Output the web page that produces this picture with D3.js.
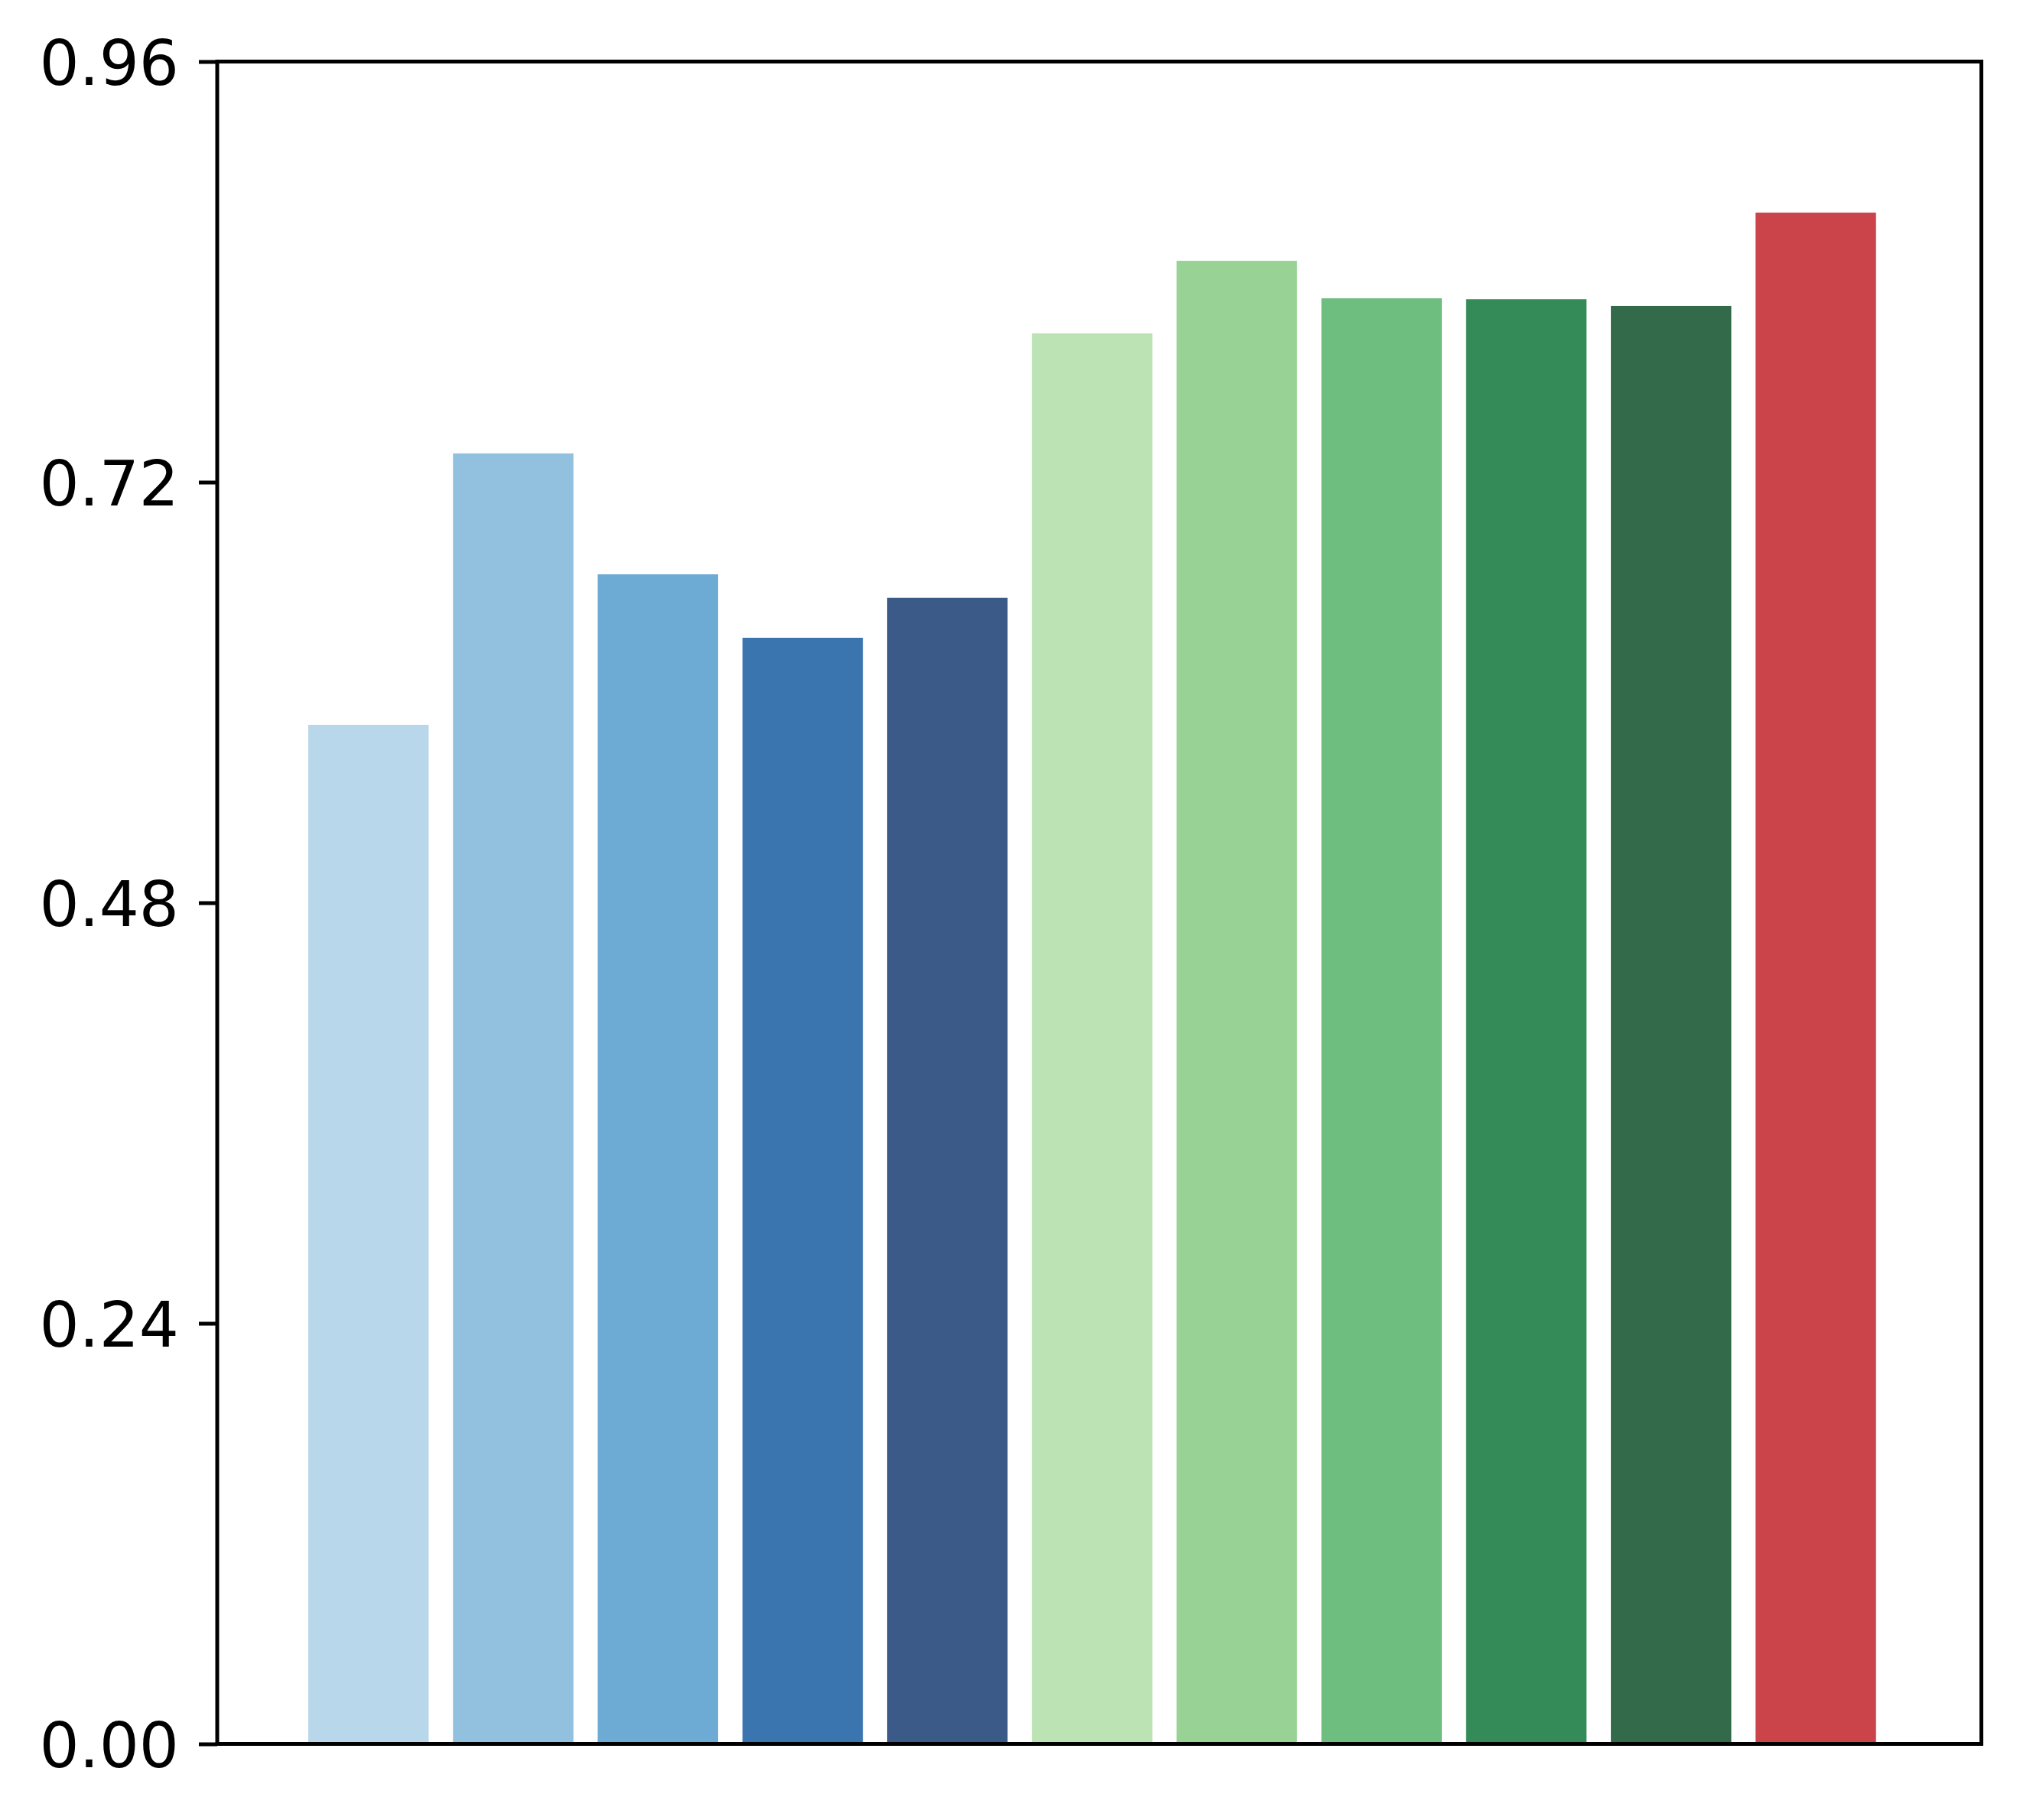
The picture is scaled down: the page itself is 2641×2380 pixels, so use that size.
<!DOCTYPE html>
<html>
<head>
<meta charset="utf-8">
<script src="https://cdn.jsdelivr.net/npm/d3@7"></script>
<style>
  html, body { margin: 0; padding: 0; background: #fff; }
  svg { display: block; }
</style>
</head>
<body>
<svg id="chart" width="2641" height="2380"></svg>
<script>
const categories = ["b1", "b2", "b3", "b4", "b5", "g1", "g2", "g3", "g4", "g5", "r1"];
const values = [0.5815, 0.7364, 0.6674, 0.6312, 0.6540, 0.8049, 0.8463, 0.8249, 0.8244, 0.8206, 0.8738];
const colors = ["#b9d7ea", "#92c1df", "#6daad4", "#3b75af", "#3b5a88",
                "#bbe3b4", "#98d395", "#6dbe7f", "#358b58", "#336a4a", "#cb444a"];
const yTicks = [0, 0.24, 0.48, 0.72, 0.96];
const yTickLabels = ["0.00", "0.24", "0.48", "0.72", "0.96"];

const W = 2641, H = 2380;
const margin = { left: 284, right: W - 2590.5, top: 80.5, bottom: H - 2280.5 };
const svg = d3.select("#chart");

const x = d3.scaleLinear()
  .domain([-1.045, categories.length - 1 + 1.144])
  .range([margin.left, W - margin.right]);
const barWidth = 0.832;
const y = d3.scaleLinear()
  .domain([0, 0.96])
  .range([H - margin.bottom, margin.top]);

svg.append("g")
  .selectAll("rect")
  .data(values)
  .join("rect")
  .attr("x", (d, i) => x(i - barWidth / 2))
  .attr("width", x(barWidth) - x(0))
  .attr("y", d => y(d))
  .attr("height", d => y(0) - y(d))
  .attr("fill", (d, i) => colors[i]);

const yAxis = d3.axisLeft(y)
  .tickValues(yTicks)
  .tickFormat((d, i) => yTickLabels[i])
  .tickSize(24)
  .tickPadding(26);

const gy = svg.append("g")
  .attr("transform", `translate(${margin.left},0)`)
  .call(yAxis);
gy.select(".domain").remove();
gy.selectAll(".tick line").attr("stroke", "#000").attr("stroke-width", 5);
gy.selectAll(".tick text")
  .attr("fill", "#000")
  .attr("font-family", "DejaVu Sans")
  .attr("font-size", 82)
  .attr("dy", "0.37em");

svg.append("rect")
  .attr("x", margin.left)
  .attr("y", margin.top)
  .attr("width", W - margin.right - margin.left)
  .attr("height", H - margin.bottom - margin.top)
  .attr("fill", "none")
  .attr("stroke", "#000")
  .attr("stroke-width", 5);
</script>
</body>
</html>
